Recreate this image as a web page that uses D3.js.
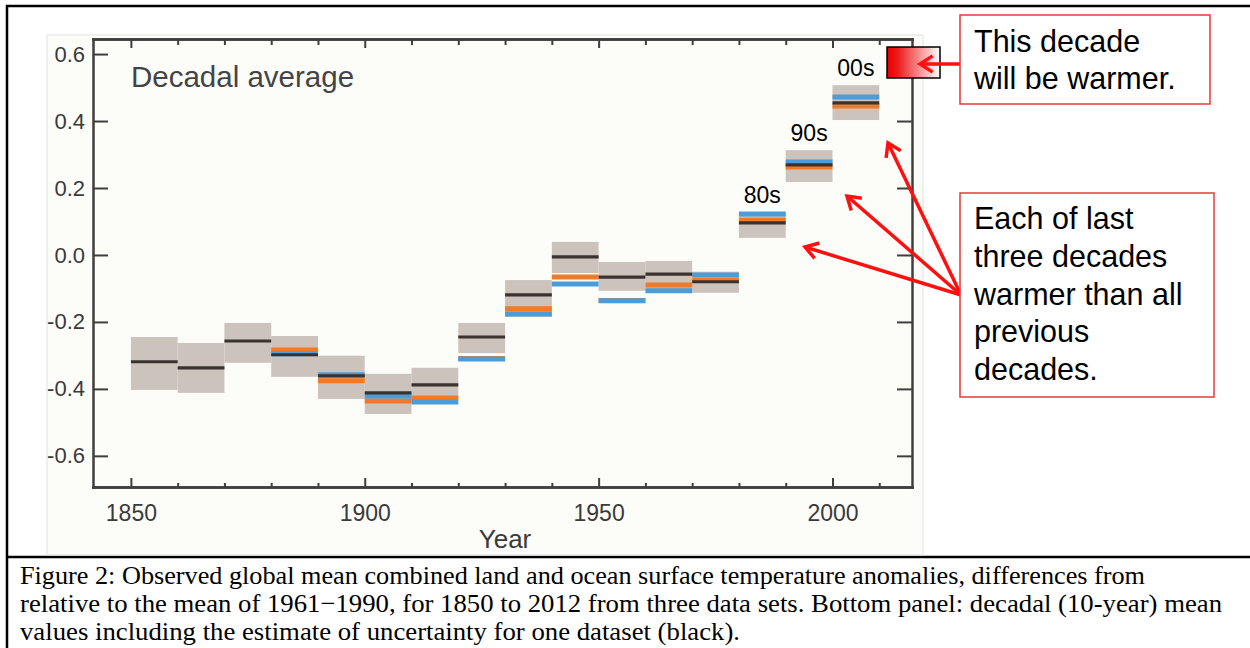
<!DOCTYPE html>
<meta charset="utf-8">
<style>
body { margin: 0; background: #fff; }
svg text { font-family: "Liberation Sans", Arial, sans-serif; }
svg text.caption { font-family: "Liberation Serif", "Times New Roman", serif; }
</style>
<body>
<script src="https://d3js.org/d3.v7.min.js"></script>
<script>

// decade start years and decadal means (deg C anomaly)
var decades    = [1850, 1860, 1870, 1880, 1890, 1900, 1910, 1920, 1930, 1940, 1950, 1960, 1970, 1980, 1990, 2000];
var boxTop     = [-0.245, -0.263, -0.203, -0.242, -0.301, -0.355, -0.337, -0.203, -0.075, 0.039, -0.021, -0.018, -0.050, 0.128, 0.313, 0.507];
var boxBottom  = [-0.403, -0.412, -0.322, -0.364, -0.430, -0.475, -0.433, -0.293, -0.185, -0.054, -0.107, -0.105, -0.113, 0.051, 0.218, 0.403];
var blackMean  = [-0.319, -0.337, -0.257, -0.298, -0.361, -0.412, -0.388, -0.245, -0.119, -0.006, -0.066, -0.057, -0.080, 0.096, 0.269, 0.454];
var orangeMean = [null, null, null, -0.284, -0.376, -0.436, -0.427, -0.309, -0.161, -0.066, -0.136, -0.090, -0.076, 0.104, 0.263, 0.445];
var blueMean   = [null, null, null, -0.295, -0.358, -0.421, -0.439, -0.311, -0.176, -0.087, -0.137, -0.107, -0.060, 0.122, 0.278, 0.472];

var yTicks = [-0.6, -0.4, -0.2, 0.0, 0.2, 0.4, 0.6];
var yTickLabels = ["-0.6", "-0.4", "-0.2", "0.0", "0.2", "0.4", "0.6"];
var xMajor = [1850, 1900, 1950, 2000];
var xMinor = [1860, 1870, 1880, 1890, 1910, 1920, 1930, 1940, 1960, 1970, 1980, 1990, 2010];

var labelDecades = [1980, 1990, 2000];
var decadeLabels = ["80s", "90s", "00s"];

var note1 = ["This decade", "will be warmer."];
var note2 = ["Each of last", "three decades", "warmer than all", "previous", "decades."];
var caption = [
  "Figure 2: Observed global mean combined land and ocean surface temperature anomalies, differences from",
  "relative to the mean of 1961\u22121990, for 1850 to 2012 from three data sets. Bottom panel: decadal (10-year) mean",
  "values including the estimate of uncertainty for one dataset (black)."
];

var svg = d3.select("body").append("svg")
    .attr("width", 1250)
    .attr("height", 648);

// page frame (document table borders)
svg.append("line").attr("x1", 6).attr("x2", 1250).attr("y1", 6).attr("y2", 6)
    .attr("stroke", "#000").attr("stroke-width", 2.5);
svg.append("line").attr("x1", 7).attr("x2", 7).attr("y1", 5).attr("y2", 648)
    .attr("stroke", "#000").attr("stroke-width", 2.5);
svg.append("line").attr("x1", 6).attr("x2", 1250).attr("y1", 557).attr("y2", 557)
    .attr("stroke", "#000").attr("stroke-width", 2.5);

// chart panel background
svg.append("rect")
    .attr("x", 47).attr("y", 35).attr("width", 876).attr("height", 520)
    .attr("fill", "#fcfcf8").attr("stroke", "#e2e2e2").attr("stroke-width", 1);

// scales
var x = d3.scaleLinear().domain([1841.9, 2017]).range([93, 912]);
var y = d3.scaleLinear().domain([-0.693, 0.645]).range([487, 39]);

// uncertainty boxes
svg.append("g").selectAll("rect")
    .data(decades)
  .enter().append("rect")
    .attr("x", function(d) { return x(d); })
    .attr("width", function(d) { return x(d + 10) - x(d); })
    .attr("y", function(d, i) { return y(boxTop[i]); })
    .attr("height", function(d, i) { return y(boxBottom[i]) - y(boxTop[i]); })
    .attr("fill", "#ccc3bd");

// decadal mean bars for each data set
function meanLines(values, colour, width) {
  var rows = decades.map(function(d, i) { return {d: d, v: values[i]}; })
      .filter(function(r) { return r.v !== null; });
  svg.append("g").selectAll("line")
      .data(rows)
    .enter().append("line")
      .attr("x1", function(r) { return x(r.d); })
      .attr("x2", function(r) { return x(r.d + 10); })
      .attr("y1", function(r) { return y(r.v); })
      .attr("y2", function(r) { return y(r.v); })
      .attr("stroke", colour)
      .attr("stroke-width", width);
}
meanLines(orangeMean, "#ee7b2c", 5);
meanLines(blueMean, "#4b9cd8", 5);
meanLines(blackMean, "#3a322f", 3.2);

// axes
function styleAxis(g, fontSize) {
  g.selectAll("path").attr("stroke", "#3f3f3f").attr("stroke-width", 2.5).attr("stroke-linecap", "square");
  g.selectAll("line").attr("stroke", "#3f3f3f").attr("stroke-width", 2);
  g.selectAll("text").attr("fill", "#3a3a3a").style("font-size", fontSize + "px");
}

styleAxis(svg.append("g").attr("transform", "translate(0,487)")
    .call(d3.axisBottom(x).tickValues(xMinor).tickSize(-4).tickSizeOuter(0).tickFormat("")), 10);
styleAxis(svg.append("g").attr("transform", "translate(0,487)")
    .call(d3.axisBottom(x).tickValues(xMajor).tickSize(-9).tickSizeOuter(0).tickPadding(18).tickFormat(d3.format("d"))), 23);
styleAxis(svg.append("g").attr("transform", "translate(0,39)")
    .call(d3.axisTop(x).tickValues(xMinor).tickSize(-6).tickSizeOuter(0).tickFormat("")), 10);
styleAxis(svg.append("g").attr("transform", "translate(0,39)")
    .call(d3.axisTop(x).tickValues(xMajor).tickSize(-9).tickSizeOuter(0).tickFormat("")), 10);
styleAxis(svg.append("g").attr("transform", "translate(93,0)")
    .call(d3.axisLeft(y).tickValues(yTicks).tickSize(-15).tickSizeOuter(0).tickPadding(8)
      .tickFormat(function(d, i) { return yTickLabels[i]; })), 22);
styleAxis(svg.append("g").attr("transform", "translate(912,0)")
    .call(d3.axisRight(y).tickValues(yTicks).tickSize(-15).tickSizeOuter(0).tickFormat("")), 10);

// axis title and panel title
svg.append("text").attr("x", 505).attr("y", 548).attr("text-anchor", "middle")
    .style("font-size", "26px").attr("fill", "#3a3a3a").text("Year");
svg.append("text").attr("x", 131).attr("y", 87)
    .style("font-size", "29.5px").attr("fill", "#444").text("Decadal average");

// decade labels above the last three boxes
svg.append("g").selectAll("text")
    .data(labelDecades)
  .enter().append("text")
    .attr("x", function(d) { return x(d + 5); })
    .attr("y", function(d) { return y(boxTop[decades.indexOf(d)]) - 9; })
    .attr("text-anchor", "middle")
    .style("font-size", "23px")
    .attr("fill", "#000")
    .text(function(d, i) { return decadeLabels[i]; });

// red annotations
var red = "#ff1010";
var grad = svg.append("defs").append("linearGradient").attr("id", "warm");
grad.append("stop").attr("offset", "0").attr("stop-color", "#e60000");
grad.append("stop").attr("offset", "0.2").attr("stop-color", "#ee1a1a");
grad.append("stop").attr("offset", "1").attr("stop-color", "#ffffff");
svg.append("rect").attr("x", 887).attr("y", 47).attr("width", 53).attr("height", 31)
    .attr("fill", "url(#warm)").attr("stroke", "#000").attr("stroke-width", 1.5);

function arrow(x1, y1, x2, y2) {
  svg.append("line").attr("x1", x1).attr("y1", y1).attr("x2", x2).attr("y2", y2)
      .attr("stroke", red).attr("stroke-width", 3.5);
  var a = Math.atan2(y1 - y2, x1 - x2), len = 15, spread = Math.PI / 5.5;
  var p1 = [x2 + len * Math.cos(a + spread), y2 + len * Math.sin(a + spread)];
  var p2 = [x2 + len * Math.cos(a - spread), y2 + len * Math.sin(a - spread)];
  svg.append("path")
      .attr("d", "M" + p1 + "L" + x2 + "," + y2 + "L" + p2)
      .attr("fill", "none").attr("stroke", red).attr("stroke-width", 3.5)
      .attr("stroke-linejoin", "miter");
}
arrow(960, 64, 920, 64);
arrow(961, 295, 805, 247);
arrow(961, 295, 847, 196);
arrow(961, 295, 888, 143);

function noteBox(bx, by, bw, bh, lines, firstBaseline, step) {
  svg.append("rect").attr("x", bx).attr("y", by).attr("width", bw).attr("height", bh)
      .attr("fill", "#fff").attr("stroke", "#e8383d").attr("stroke-width", 1.5);
  svg.append("g").selectAll("text")
      .data(lines)
    .enter().append("text")
      .attr("x", bx + 14)
      .attr("y", function(d, i) { return firstBaseline + i * step; })
      .style("font-size", "30.5px")
      .attr("fill", "#000")
      .text(function(d) { return d; });
}
noteBox(960, 15, 250, 89, note1, 52, 37);
noteBox(960, 193, 254, 204, note2, 229, 37.8);

// figure caption
var capWidths = [1125, 1202, 720];
svg.append("g").selectAll("text")
    .data(caption)
  .enter().append("text")
    .attr("class", "caption")
    .attr("x", 20)
    .attr("y", function(d, i) { return 584 + i * 28; })
    .attr("textLength", function(d, i) { return capWidths[i]; })
    .attr("lengthAdjust", "spacingAndGlyphs")
    .style("font-size", "26px")
    .attr("fill", "#000")
    .text(function(d) { return d; });

</script>
</body>
